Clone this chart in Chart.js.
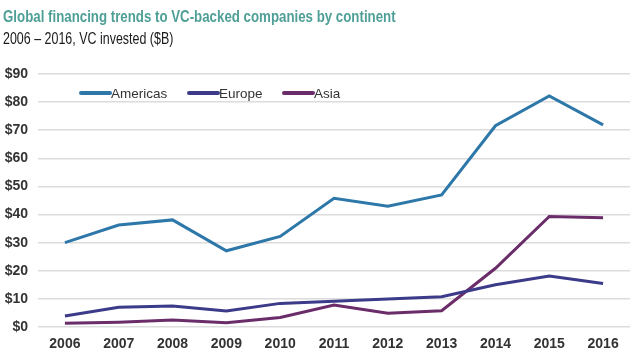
<!DOCTYPE html>
<html>
<head>
<meta charset="utf-8">
<script src="https://cdn.jsdelivr.net/npm/chart.js@4/dist/chart.umd.min.js"></script>
<style>
  html, body { margin: 0; padding: 0; background: #fff; }
  #wrap { position: relative; width: 640px; height: 363px; overflow: hidden; }
  #chart { position: absolute; left: 0; top: 0; }
  .head { position: absolute; left: 3px; white-space: nowrap; transform-origin: 0 0; font-family: "Liberation Sans", Arial, sans-serif; }
  #title { top: 7px; font-size: 17px; color: #4e9f96; font-weight: bold; }
  #subtitle { top: 29px; font-size: 17px; color: #1a1a1a; }
</style>
</head>
<body>
<div id="wrap">
  <canvas id="chart" width="640" height="363"></canvas>
  <span class="head" id="title">Global financing trends to VC-backed companies by continent</span>
  <span class="head" id="subtitle">2006 – 2016, VC invested ($B)</span>
</div>
<script>
//data
const years = ['2006', '2007', '2008', '2009', '2010', '2011', '2012', '2013', '2014', '2015', '2016'];
const americas = [30, 36.3, 38.1, 27.1, 32.2, 45.8, 43, 47, 71.6, 82.2, 71.9];
const europe = [3.9, 7, 7.5, 5.7, 8.4, 9.2, 10, 10.8, 15, 18.1, 15.5];
const asia = [1.3, 1.7, 2.5, 1.5, 3.4, 7.8, 4.9, 5.8, 20.9, 39.3, 38.9];
const yTicks = [0, 10, 20, 30, 40, 50, 60, 70, 80, 90];

const seriesNames = ['Americas', 'Europe', 'Asia'];
const seriesColours = ['#2d78a9', '#3c3b8a', '#6b2d69'];

//squeeze the heading text to the narrow width it has in the picture
function fitWidth(id, target) {
    let el = document.getElementById(id);
    el.style.transform = 'scaleX(' + (target / el.offsetWidth) + ')';
}
fitWidth('title', 393);
fitWidth('subtitle', 170);

//legend sits inside the plot, drawn by hand so it can be placed like the original
const legendPlugin = {
    id: 'insideLegend',
    afterDraw(chart) {
        const ctx = chart.ctx;
        const xs = [80, 188, 283];
        const y = 93;
        ctx.save();
        ctx.font = '13.5px "Liberation Sans", Arial, sans-serif';
        ctx.textBaseline = 'middle';
        for (let i = 0; i < seriesNames.length; i++) {
            ctx.strokeStyle = seriesColours[i];
            ctx.lineWidth = 4;
            ctx.lineCap = 'round';
            ctx.beginPath();
            ctx.moveTo(xs[i] + 1, y);
            ctx.lineTo(xs[i] + 30, y);
            ctx.stroke();
            ctx.fillStyle = '#333';
            ctx.fillText(seriesNames[i], xs[i] + 31, y + 1);
        }
        ctx.restore();
    }
};

const datasets = [americas, europe, asia].map(function (vals, i) {
    return {
        label: seriesNames[i],
        data: vals,
        borderColor: seriesColours[i],
        backgroundColor: seriesColours[i],
        borderWidth: 3,
        pointRadius: 0,
        tension: 0
    };
});

new Chart(document.getElementById('chart'), {
    type: 'line',
    data: { labels: years, datasets: datasets },
    plugins: [legendPlugin],
    options: {
        responsive: false,
        animation: false,
        layout: { padding: { top: 74, right: 10, left: 0, bottom: 0 } },
        plugins: {
            legend: { display: false },
            title: { display: false },
            tooltip: { enabled: false }
        },
        scales: {
            x: {
                offset: true,
                grid: { display: false, drawTicks: false },
                border: { display: false },
                ticks: {
                    padding: 9,
                    color: '#333',
                    font: { family: '"Liberation Sans", Arial, sans-serif', size: 14, weight: 'bold' }
                },
                afterFit(scale) { scale.height = 36; }
            },
            y: {
                min: 0,
                max: 90,
                afterBuildTicks(scale) { scale.ticks = yTicks.map(v => ({ value: v })); },
                grid: { color: '#dcdcdc', lineWidth: 1.5, drawTicks: false },
                border: { display: false },
                ticks: {
                    padding: 10,
                    color: '#333',
                    font: { family: '"Liberation Sans", Arial, sans-serif', size: 14, weight: 'bold' },
                    callback: v => '$' + v
                },
                afterFit(scale) { scale.width = 38; }
            }
        }
    }
});
</script>
</body>
</html>
